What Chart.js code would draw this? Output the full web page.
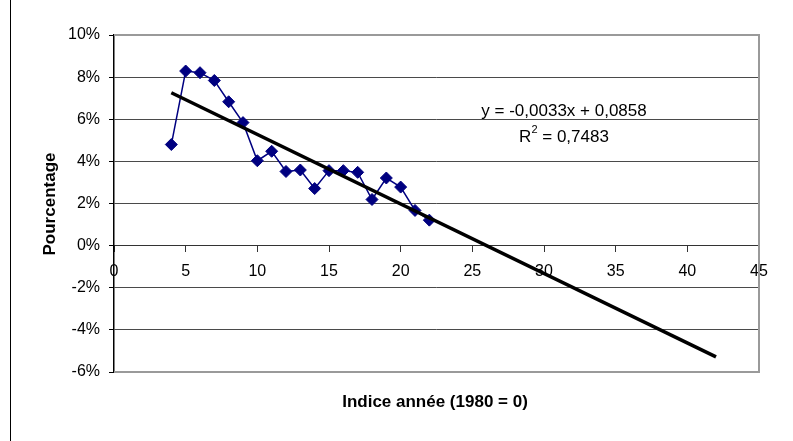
<!DOCTYPE html>
<html>
<head>
<meta charset="utf-8">
<script src="https://cdn.jsdelivr.net/npm/chart.js@4/dist/chart.umd.min.js"></script>
<style>
  html, body { margin: 0; padding: 0; background: #fff; }
  #wrap { width: 793px; height: 441px; position: relative; }
</style>
</head>
<body>
<div id="wrap"><canvas id="c" width="793" height="441"></canvas></div>
<script>
// Year index (1980 = 0)
const yearIndex = [4, 5, 6, 7, 8, 9, 10, 11, 12, 13, 14, 15, 16, 17, 18, 19, 20, 21, 22];
// Rate in percent
const ratePct = [4.80, 8.29, 8.21, 7.84, 6.83, 5.84, 4.03, 4.48, 3.52, 3.59, 2.71, 3.56, 3.56, 3.48, 2.19, 3.21, 2.78, 1.67, 1.21];

// Linear trend: y = slope * x + intercept (fractions), drawn over this x range
const trendCoef = [-0.0033, 0.0858];   // [slope, intercept]
const trendRange = [4, 42];
const trendR2 = '0,7483';

const xTicks = [0, 45, 5];    // [min, max, step]
const yTicks = [-6, 10, 2];   // [min, max, step] in percent

const seriesPoints = yearIndex.map((x, i) => ({ x: x, y: ratePct[i] }));
const trendPoints = trendRange.map(x => ({ x: x, y: (trendCoef[0] * x + trendCoef[1]) * 100 }));

const FONT = '"Liberation Sans", Arial, sans-serif';

function fmtComma(v) { return String(v).replace('.', ','); }

const decor = {
  id: 'decor',
  beforeDatasetsDraw(chart) {
    const { ctx, chartArea: a } = chart;
    ctx.save();
    ctx.strokeStyle = '#9a9a9a';
    ctx.lineWidth = 2;
    ctx.beginPath();
    ctx.moveTo(a.left, a.top);
    ctx.lineTo(a.right, a.top);
    ctx.lineTo(a.right, a.bottom);
    ctx.lineTo(a.left, a.bottom);
    ctx.stroke();
    ctx.restore();
  },
  afterDraw(chart) {
    const { ctx } = chart;
    ctx.save();
    // frame edge on the left
    ctx.fillStyle = '#000';
    ctx.fillRect(10, 0, 1, 441);

    // axis titles
    ctx.fillStyle = '#000';
    ctx.font = 'bold 17px ' + FONT;
    ctx.textAlign = 'center';
    ctx.textBaseline = 'middle';
    ctx.fillText('Indice année (1980 = 0)', 435, 402);
    ctx.save();
    ctx.translate(50, 204);
    ctx.rotate(-Math.PI / 2);
    ctx.fillText('Pourcentage', 0, 0);
    ctx.restore();

    // trend equation
    ctx.font = '17px ' + FONT;
    const sign = trendCoef[1] >= 0 ? ' + ' : ' - ';
    const eq = 'y = ' + fmtComma(trendCoef[0]) + 'x' + sign + fmtComma(Math.abs(trendCoef[1]));
    ctx.fillText(eq, 564, 111);

    // R² line
    const cx = 564, cy = 137;
    ctx.textAlign = 'left';
    const partR = 'R';
    const partRest = ' = ' + trendR2;
    const wR = ctx.measureText(partR).width;
    const wRest = ctx.measureText(partRest).width;
    ctx.font = '11px ' + FONT;
    const wSup = ctx.measureText('2').width;
    const total = wR + wSup + wRest;
    let x0 = cx - total / 2;
    ctx.font = '17px ' + FONT;
    ctx.fillText(partR, x0, cy);
    ctx.font = '11px ' + FONT;
    ctx.fillText('2', x0 + wR, cy - 7);
    ctx.font = '17px ' + FONT;
    ctx.fillText(partRest, x0 + wR + wSup, cy);
    ctx.restore();
  }
};

new Chart(document.getElementById('c'), {
  type: 'scatter',
  data: {
    datasets: [
      {
        label: 'Tendance',
        data: trendPoints,
        showLine: true,
        borderColor: '#000',
        borderWidth: 3.5,
        pointRadius: 0,
        order: 0
      },
      {
        label: 'Pourcentage',
        data: seriesPoints,
        showLine: true,
        borderColor: '#000080',
        backgroundColor: '#000080',
        borderWidth: 1.5,
        pointStyle: 'rectRot',
        pointRadius: 6,
        pointHoverRadius: 6,
        pointBorderWidth: 1,
        order: 1
      }
    ]
  },
  options: {
    responsive: false,
    animation: false,
    events: [],
    layout: { padding: { left: 0, top: 35, right: 34, bottom: 69 } },
    plugins: { legend: { display: false }, tooltip: { enabled: false } },
    scales: {
      x: {
        type: 'linear',
        position: { y: 0 },
        min: xTicks[0], max: xTicks[1],
        ticks: {
          stepSize: xTicks[2],
          color: '#000',
          font: { family: FONT, size: 16 },
          padding: 10,
          maxRotation: 0
        },
        grid: { drawOnChartArea: false, drawTicks: true, tickLength: 6, color: '#333' },
        border: { display: true, color: '#333', width: 1 },
        afterFit(s) { s.paddingLeft = 0; s.paddingRight = 0; }
      },
      y: {
        type: 'linear',
        min: yTicks[0], max: yTicks[1],
        ticks: {
          stepSize: yTicks[2],
          color: '#000',
          font: { family: FONT, size: 16 },
          padding: 9,
          callback: v => v + '%'
        },
        grid: {
          color: c => (c.tick && (c.tick.value === yTicks[0] || c.tick.value === yTicks[1])) ? 'rgba(0,0,0,0)' : '#4a4a4a',
          tickColor: '#000',
          tickLength: 5,
          lineWidth: 1
        },
        border: { display: true, color: '#000', width: 1.5 },
        afterFit(s) { s.width = 114; s.paddingTop = 0; s.paddingBottom = 0; }
      }
    }
  },
  plugins: [decor]
});
</script>
</body>
</html>
